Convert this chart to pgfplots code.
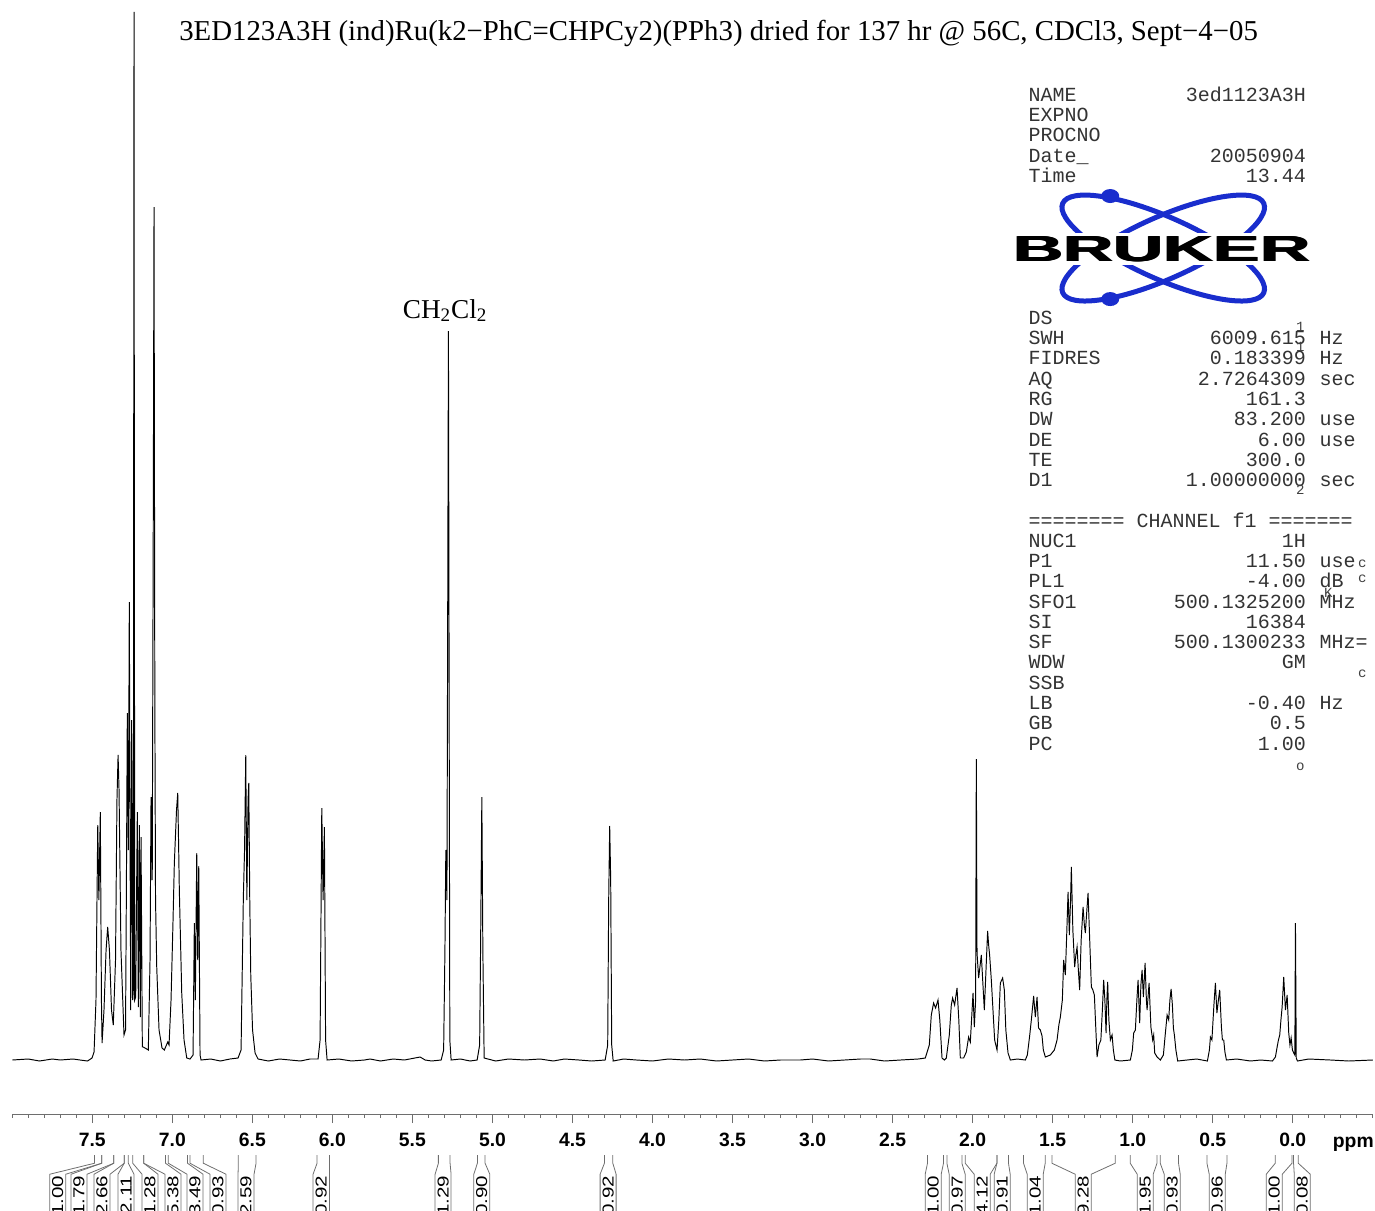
\documentclass[border=0pt]{standalone}
\usepackage{fontspec}
\setmainfont{Liberation Serif}
\setsansfont{Liberation Sans}
\setmonofont{Liberation Mono}
\usepackage{graphicx}
\usepackage{pgfplots}
\pgfplotsset{compat=1.18}
\definecolor{brukerblue}{RGB}{25,45,205}
\definecolor{axgray}{RGB}{110,110,110}
\newcommand{\prow}[4]{%
  \node[anchor=base west] at (1028,#1) {#2};%
  \node[anchor=base east] at (1306,#1) {#3};%
  \node[anchor=base west] at (1319,#1) {#4};}
\begin{document}
\begin{tikzpicture}
\useasboundingbox (0,0) rectangle (27.5cm,-24.22cm);
\begin{axis}[
  at={(0.246cm,-22.28cm)}, anchor=south west,
  scale only axis, width=27.21cm, height=22.08cm,
  xmin=-0.5, xmax=8.0, x dir=reverse,
  ymin=-54, ymax=1050,
  axis x line*=bottom, axis y line=none, ytick=\empty,
  axis line style={-, axgray, line width=0.5pt},
  xtick={0,0.5,...,7.5},
  minor xtick={-0.5,-0.4,...,8.0},
  tick align=outside,
  major tick length=0.18cm, minor tick length=0.07cm,
  every tick/.style={axgray, line width=0.5pt},
  /pgf/number format/assume math mode=true,
  x tick label style={font=\sffamily\bfseries\fontsize{11}{13}\selectfont, yshift=-0.08cm,
    /pgf/number format/.cd, fixed, fixed zerofill, precision=1},
  clip=true,
]
\addplot[black, line width=0.55pt, mark=none] coordinates {
(8.00,0) (7.90,1) (7.83,-1) (7.75,1) (7.70,0) (7.62,1) (7.577,0) (7.53,-1) (7.502,2) (7.489,8) (7.477,60) (7.466,235) (7.459,160) (7.450,248) (7.443,60) (7.439,17) (7.427,50) (7.414,110) (7.404,133) (7.393,110) (7.380,50) (7.369,35) (7.355,100) (7.346,260) (7.339,305) (7.333,270) (7.321,110) (7.302,25) (7.2925,30) (7.2875,160) (7.2813,347) (7.2750,210) (7.2688,458) (7.2638,210) (7.2600,50) (7.2538,340) (7.2475,60) (7.2438,70) (7.2394,1048) (7.2350,60) (7.2288,63) (7.2238,160) (7.2188,248) (7.2125,53) (7.2063,235) (7.2000,43) (7.1956,223) (7.1875,13) (7.1813,13) (7.1500,10) (7.1394,100) (7.1331,263) (7.1256,180) (7.1188,560) (7.1144,853) (7.1094,360) (7.1050,160) (7.0975,93) (7.0831,30) (7.0644,12) (7.0500,10) (7.0394,14) (7.0288,18) (7.0206,15) (7.0081,60) (6.9956,140) (6.9875,197) (6.9738,250) (6.9663,267) (6.9613,220) (6.9563,170) (6.9413,67) (6.9269,20) (6.9100,2) (6.8894,1) (6.8706,5) (6.8625,137) (6.8563,60) (6.8475,207) (6.8413,100) (6.8350,194) (6.8269,5) (6.8206,0) (6.76,1) (6.70,-1) (6.64,1) (6.5894,2) (6.5706,10) (6.5563,163) (6.5488,210) (6.5413,305) (6.5344,160) (6.5269,260) (6.5225,277) (6.5163,160) (6.5100,85) (6.4988,30) (6.4831,7) (6.4644,1) (6.40,-1) (6.33,1) (6.2644,0) (6.20,-1) (6.14,1) (6.0894,1) (6.0769,20) (6.0663,252) (6.0581,160) (6.0500,233) (6.0425,20) (6.0331,0) (5.96,1) (5.88,-1) (5.80,0) (5.7644,1) (5.70,-1) (5.62,1) (5.55,0) (5.4519,3) (5.4206,0) (5.38,-1) (5.3207,0) (5.3050,10) (5.2969,110) (5.2913,210) (5.2844,160) (5.2794,460) (5.2750,729) (5.2706,360) (5.2663,20) (5.2582,0) (5.20,1) (5.14,-1) (5.0957,0) (5.0800,15) (5.0738,120) (5.0663,263) (5.0600,110) (5.0519,2) (4.98,-1) (4.90,1) (4.80,0) (4.7019,1) (4.62,-1) (4.55,1) (4.46,0) (4.38,-1) (4.2957,0) (4.2800,15) (4.2738,160) (4.2675,234) (4.2613,180) (4.2550,15) (4.2457,-1) (4.18,1) (4.10,0) (4.00,-1) (3.90,1) (3.80,0) (3.7019,1) (3.60,-1) (3.50,0) (3.40,1) (3.30,-1) (3.20,0) (3.0769,0) (3.00,1) (2.90,-1) (2.80,0) (2.70,1) (2.6394,1) (2.55,-1) (2.45,0) (2.3394,1) (2.2957,2) (2.2707,15) (2.2582,45) (2.2438,57) (2.2313,52) (2.2163,60) (2.2050,40) (2.1913,2) (2.1769,0) (2.1644,2) (2.1457,25) (2.1332,55) (2.1250,62) (2.1125,55) (2.0975,72) (2.0863,40) (2.0769,2) (2.0563,2) (2.0394,8) (2.0250,23) (2.0144,18) (1.9975,67) (1.9894,33) (1.9813,60) (1.9769,301) (1.9725,107) (1.9625,82) (1.9457,105) (1.9269,50) (1.9063,129) (1.9000,115) (1.8938,105) (1.8832,80) (1.8625,20) (1.8475,10) (1.8363,40) (1.8269,77) (1.8125,82) (1.8019,70) (1.7925,30) (1.7788,7) (1.7644,0) (1.72,1) (1.6707,0) (1.6582,5) (1.6438,24) (1.6332,40) (1.6188,64) (1.6082,43) (1.5975,63) (1.5882,32) (1.5769,30) (1.5663,24) (1.5582,10) (1.5457,3) (1.5144,5) (1.4894,10) (1.4725,20) (1.4613,35) (1.4519,43) (1.4394,60) (1.4313,100) (1.4207,85) (1.4113,130) (1.4038,168) (1.3957,125) (1.3882,160) (1.3832,193) (1.3738,130) (1.3625,93) (1.3550,105) (1.3475,113) (1.3394,90) (1.3313,70) (1.3219,120) (1.3100,153) (1.3019,135) (1.2957,127) (1.2863,150) (1.2788,167) (1.2707,130) (1.2582,73) (1.2488,70) (1.2394,65) (1.2300,30) (1.2225,3) (1.2113,15) (1.1988,20) (1.1894,50) (1.1813,80) (1.1738,60) (1.1663,27) (1.1613,60) (1.1563,78) (1.1488,40) (1.1394,20) (1.1288,25) (1.1207,10) (1.1113,0) (1.0769,-1) (1.0144,0) (1.0019,10) (0.9938,27) (0.9832,30) (0.9738,60) (0.9663,80) (0.9563,37) (0.9488,75) (0.9413,90) (0.9332,63) (0.9225,97) (0.9144,60) (0.9100,50) (0.8975,77) (0.8863,33) (0.8750,20) (0.8688,25) (0.8625,7) (0.8475,3) (0.8269,0) (0.8082,5) (0.7957,27) (0.7850,45) (0.7750,40) (0.7675,60) (0.7600,71) (0.7519,55) (0.7457,32) (0.7394,25) (0.7300,10) (0.7188,-1) (0.66,0) (0.60,1) (0.5332,-1) (0.5207,10) (0.5144,23) (0.5050,20) (0.4925,55) (0.4832,77) (0.4738,47) (0.4644,60) (0.4563,70) (0.4457,33) (0.4394,20) (0.4313,20) (0.4238,8) (0.4144,0) (0.35,1) (0.2644,-1) (0.20,0) (0.1269,-1) (0.1082,3) (0.0975,13) (0.0894,20) (0.0813,25) (0.0738,40) (0.0663,53) (0.0563,83) (0.0457,50) (0.0350,65) (0.0250,27) (0.0175,15) (0.0100,22) (0.0019,10) (-0.0063,7) (-0.0131,5) (-0.0169,137) (-0.0219,2) (-0.0294,-1) (-0.10,1) (-0.2356,0) (-0.35,-1) (-0.50,0)
};
\end{axis}
\begin{scope}[x=0.02cm,y=-0.02cm]
% title
\node[anchor=base, inner sep=0pt, font=\fontsize{16.4}{20}\selectfont] at (718.5,40)
  {3ED123A3H (ind)Ru(k2−PhC=CHPCy2)(PPh3) dried for 137 hr @ 56C, CDCl3, Sept−4−05};
% CH2Cl2 label
\node[anchor=base, inner sep=0pt, font=\fontsize{15.5}{18}\selectfont] at (445,318)
  {CH\textsubscript{2}Cl\textsubscript{2}};
% ppm
\node[anchor=base, inner sep=0pt, font=\sffamily\bfseries\fontsize{11}{13}\selectfont] at (1353,1147) {ppm};
% integrals
\foreach \cx/\lo/\hi/\lab in {57.7/94.5/101.7/1.00, 79/101.7/113.7/1.79, 102/113.7/124.2/2.66,
  126/124.2/128.3/2.11, 150/132.7/143.7/1.28, 173/143.7/165.5/5.38, 195/168.3/187.5/3.49,
  218/190/203.3/0.93, 246/238.3/256/2.59, 321/317/329/0.92, 443/438.3/450/1.29,
  481.7/477.3/485/0.90, 608/604.3/612.7/0.92, 933/927.3/943.3/1.00, 957/946.7/961.7/0.97,
  982/965/996.7/4.12, 1002/996.7/1008.3/0.91, 1035/1023.3/1045/1.04, 1083/1051.7/1115/9.28,
  1145/1130/1156.7/1.95, 1172/1160/1178.3/0.93, 1217/1206.7/1226.7/0.96,
  1274/1275/1291.7/1.00, 1302/1293.3/1298/0.08}{
  \draw[axgray, line width=0.45pt] (\lo,1155) -- (\lo,1163) -- (\cx-8,1174) -- (\cx-8,1216);
  \draw[axgray, line width=0.45pt] (\hi,1155) -- (\hi,1163) -- (\cx+8,1174) -- (\cx+8,1216);
  \node[anchor=north, inner sep=0pt] at (\cx,1175)
    {\rotatebox{90}{\scalebox{1.3}[1]{\sffamily\fontsize{9}{9}\selectfont\lab}}};
}
% Bruker logo
\draw[brukerblue, line width=0.1cm, rotate around={24:(1163,248)}] (1163,248) ellipse (110 and 31);
\draw[brukerblue, line width=0.1cm, rotate around={-24:(1163,248)}] (1163,248) ellipse (110 and 31);
\fill[brukerblue] (1110,196) ellipse (9 and 7);
\fill[brukerblue] (1110,299) ellipse (9 and 7);
\fill[white] (1010,233) rectangle (1313,265);
\foreach \dx in {-1,0,1}{
  \node[inner sep=0pt] at (1161.5+\dx,249)
    {\scalebox{1.92}[1]{\sffamily\bfseries\fontsize{20.6}{22}\selectfont BRUKER}};
}
% parameter block
\begin{scope}[every node/.style={inner sep=0pt, text=black!80,
    font=\ttfamily\fontsize{11.38}{13}\selectfont}]
\prow{101}{NAME}{3ed1123A3H}{}
\prow{121}{EXPNO}{}{}
\prow{141.5}{PROCNO}{}{}
\prow{162}{Date\_}{20050904}{}
\prow{182}{Time}{13.44}{}
\prow{324}{DS}{}{}
\prow{344}{SWH}{6009.615}{Hz}
\prow{364}{FIDRES}{0.183399}{Hz}
\prow{385}{AQ}{2.7264309}{sec}
\prow{405}{RG}{161.3}{}
\prow{425}{DW}{83.200}{use}
\prow{446}{DE}{6.00}{use}
\prow{466}{TE}{300.0}{}
\prow{486}{D1}{1.00000000}{sec}
\node[anchor=base west] at (1028,527) {======== CHANNEL f1 =======};
\prow{547}{NUC1}{1H}{}
\prow{567}{P1}{11.50}{use}
\prow{587}{PL1}{-4.00}{dB}
\prow{608}{SFO1}{500.1325200}{MHz}
\prow{628}{SI}{16384}{}
\prow{648}{SF}{500.1300233}{MHz=}
\prow{668}{WDW}{GM}{}
\prow{689}{SSB}{}{}
\prow{709}{LB}{-0.40}{Hz}
\prow{729}{GB}{0.5}{}
\prow{750}{PC}{1.00}{}
\end{scope}
\begin{scope}[every node/.style={inner sep=0pt, text=black!75,
    font=\ttfamily\fontsize{8}{9}\selectfont}]
\node[anchor=base] at (1300,331) {1};
\node[anchor=base] at (1300,351) {1};
\node[anchor=base] at (1300,494) {2};
\node[anchor=base] at (1362,567) {c};
\node[anchor=base] at (1362,582) {c};
\node[anchor=base] at (1328,597) {K};
\node[anchor=base] at (1362,677) {c};
\node[anchor=base] at (1300,770) {o};
\end{scope}
\end{scope}
\end{tikzpicture}
\end{document}
